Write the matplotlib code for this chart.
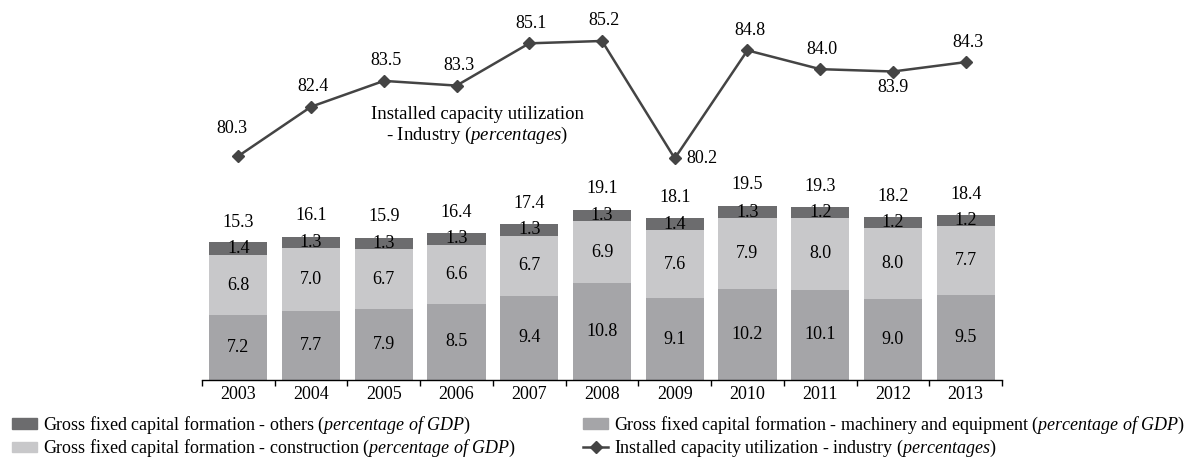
import numpy as np
import matplotlib.pyplot as plt
from matplotlib.lines import Line2D
from matplotlib.patches import Patch

plt.rcParams['font.family'] = 'Liberation Serif'
plt.rcParams['mathtext.fontset'] = 'custom'
plt.rcParams['mathtext.rm'] = 'Liberation Serif'
plt.rcParams['mathtext.it'] = 'Liberation Serif:italic'

years = ['2003', '2004', '2005', '2006', '2007', '2008', '2009', '2010', '2011', '2012', '2013']
machinery = [7.2, 7.7, 7.9, 8.5, 9.4, 10.8, 9.1, 10.2, 10.1, 9.0, 9.5]
construction = [6.8, 7.0, 6.7, 6.6, 6.7, 6.9, 7.6, 7.9, 8.0, 8.0, 7.7]
others = [1.4, 1.3, 1.3, 1.3, 1.3, 1.3, 1.4, 1.3, 1.2, 1.2, 1.2]
totals = [15.3, 16.1, 15.9, 16.4, 17.4, 19.1, 18.1, 19.5, 19.3, 18.2, 18.4]
capacity = [80.3, 82.4, 83.5, 83.3, 85.1, 85.2, 80.2, 84.8, 84.0, 83.9, 84.3]

C_OTHERS = '#6c6c6e'
C_MACH = '#a5a5a8'
C_CONS = '#c8c8ca'
C_LINE = '#444444'

W, H = 1193, 458
fig = plt.figure(figsize=(W / 100, H / 100), dpi=100)

x = np.arange(len(years))

# bars (bottom panel)
ax = fig.add_axes([202 / W, (H - 380) / H, 800 / W, 179.2 / H])
ax.bar(x, machinery, width=0.8, color=C_MACH)
bottom2 = np.array(machinery)
ax.bar(x, construction, width=0.8, bottom=bottom2, color=C_CONS)
bottom3 = bottom2 + np.array(construction)
ax.bar(x, others, width=0.8, bottom=bottom3, color=C_OTHERS)

for i in range(len(years)):
    ax.text(x[i], machinery[i] / 2, f'{machinery[i]:.1f}', ha='center', va='center', fontsize=13)
    ax.text(x[i], bottom2[i] + construction[i] / 2, f'{construction[i]:.1f}', ha='center', va='center', fontsize=13)
    ax.text(x[i], bottom3[i] + others[i] / 2, f'{others[i]:.1f}', ha='center', va='center', fontsize=13)
    ax.text(x[i], totals[i] + 2.3, f'{totals[i]:.1f}', ha='center', va='center', fontsize=13)

ax.set_xlim(-0.5, len(years) - 0.5)
ax.set_ylim(0, 20)
for s in ['top', 'right', 'left']:
    ax.spines[s].set_visible(False)
ax.spines['bottom'].set_linewidth(1.0)
ax.set_yticks([])
ax.set_xticks(x)
ax.set_xticklabels(years, fontsize=13)
ax.tick_params(axis='x', which='major', length=0, pad=4)
ax.set_xticks(np.arange(-0.5, len(years), 1.0), minor=True)
ax.tick_params(axis='x', which='minor', length=4, direction='out', width=1.0)

# line (top panel)
ax2 = fig.add_axes([202 / W, (H - 174.8) / H, 800 / W, 152.6 / H])
ax2.plot(x, capacity, color=C_LINE, linewidth=1.8, marker='D', markersize=6.5)
ax2.set_xlim(-0.5, len(years) - 0.5)
ax2.set_ylim(79.5, 86)
ax2.axis('off')

for i, v in enumerate(capacity):
    if years[i] == '2009':
        ax2.annotate(f'{v:.1f}', (x[i], v), xytext=(12, 0), textcoords='offset pixels',
                     ha='left', va='center', fontsize=13)
    elif years[i] == '2012':
        ax2.annotate(f'{v:.1f}', (x[i], v), xytext=(0, -16), textcoords='offset pixels',
                     ha='center', va='center', fontsize=13)
    elif years[i] == '2003':
        ax2.annotate(f'{v:.1f}', (x[i], v), xytext=(-6, 28), textcoords='offset pixels',
                     ha='center', va='center', fontsize=13)
    else:
        ax2.annotate(f'{v:.1f}', (x[i], v), xytext=(2, 20), textcoords='offset pixels',
                     ha='center', va='center', fontsize=13)

fig.text(477 / W, 1 - 126 / H, 'Installed capacity utilization\n- Industry ($\\mathit{percentages}$)',
         ha='center', va='center', fontsize=13.5, linespacing=1.15)

# legend
h_others = Patch(color=C_OTHERS)
h_cons = Patch(color=C_CONS)
h_mach = Patch(color=C_MACH)
h_line = Line2D([], [], color=C_LINE, linewidth=1.8, marker='D', markersize=6.5)

leg_kw = dict(loc='upper left', frameon=False, fontsize=13, handlelength=1.4,
              handleheight=0.55, handletextpad=0.33, labelspacing=0.12,
              borderaxespad=0, borderpad=0)
fig.legend([h_others, h_cons],
           ['Gross fixed capital formation - others ($\\mathit{percentage\\ of\\ GDP}$)',
            'Gross fixed capital formation - construction ($\\mathit{percentage\\ of\\ GDP}$)'],
           bbox_to_anchor=(12 / W, 1 - 415 / H), **leg_kw)
fig.legend([h_mach, h_line],
           ['Gross fixed capital formation - machinery and equipment ($\\mathit{percentage\\ of\\ GDP}$)',
            'Installed capacity utilization - industry ($\\mathit{percentages}$)'],
           bbox_to_anchor=(583 / W, 1 - 415 / H), **leg_kw)

fig.savefig('out.png', dpi=100)
